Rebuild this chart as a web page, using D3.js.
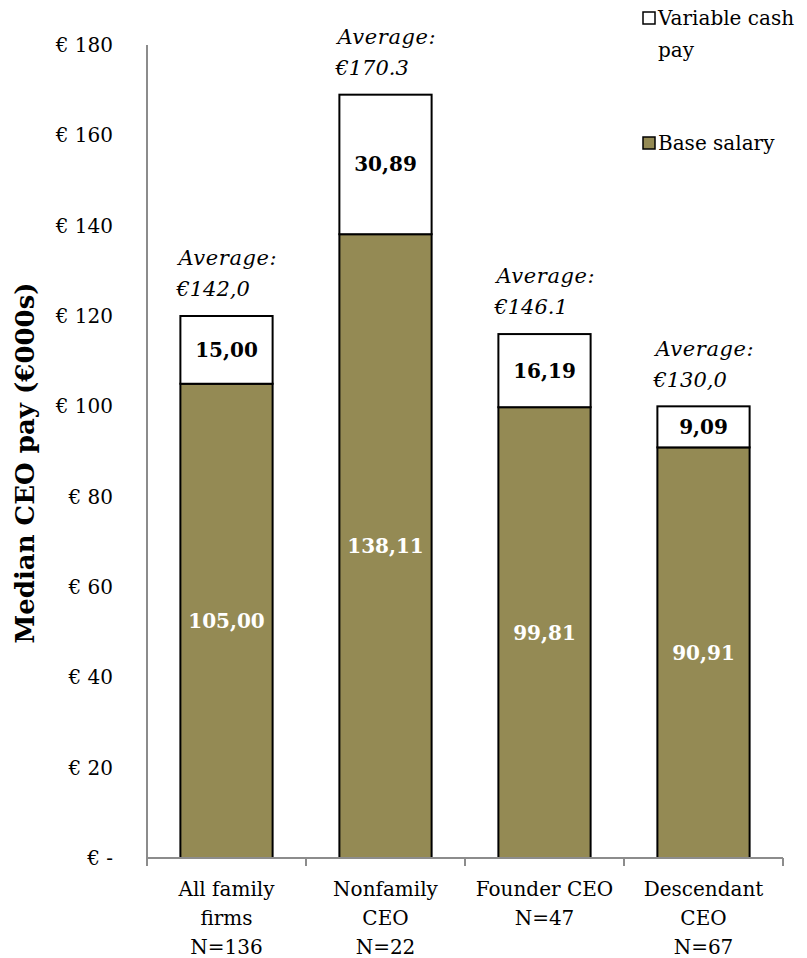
<!DOCTYPE html>
<html>
<head>
<meta charset="utf-8">
<script src="https://cdn.jsdelivr.net/npm/d3@7"></script>
<style>
  body { margin: 0; background: #fff; }
  svg { display: block; font-family: "DejaVu Serif", "Liberation Serif", serif; }
</style>
</head>
<body>
<svg id="chart" width="807" height="958"></svg>
<script>
// Median CEO pay by CEO type (€000s)
const categories = [
  ["All family", "firms", "N=136"],
  ["Nonfamily", "CEO", "N=22"],
  ["Founder CEO", "N=47"],
  ["Descendant", "CEO", "N=67"]
];
const baseSalary = [105.00, 138.11, 99.81, 90.91];
const variablePay = [15.00, 30.89, 16.19, 9.09];
const baseLabels = ["105,00", "138,11", "99,81", "90,91"];
const variableLabels = ["15,00", "30,89", "16,19", "9,09"];
const averageLabels = ["€142,0", "€170.3", "€146.1", "€130,0"];
const yTicks = [0, 20, 40, 60, 80, 100, 120, 140, 160, 180];

const svg = d3.select("#chart");
const margin = { left: 147, right: 24, top: 45, bottom: 100 };
const width = 807, height = 958;

const x = d3.scaleBand()
  .domain(d3.range(categories.length))
  .range([margin.left, width - margin.right])
  .paddingInner(0.42).paddingOuter(0.21);

const xBand = d3.scaleBand()
  .domain(d3.range(categories.length))
  .range([margin.left, width - margin.right]);

const y = d3.scaleLinear().domain([0, 180]).range([height - margin.bottom, margin.top]);

const olive = "#948a54";
const axisGray = "#8c8c8c";

// y axis line
svg.append("line")
  .attr("x1", margin.left).attr("x2", margin.left)
  .attr("y1", y(0)).attr("y2", y(180))
  .attr("stroke", axisGray).attr("stroke-width", 2);

// y tick labels
svg.append("g").selectAll("text").data(yTicks).join("text")
  .attr("x", 113).attr("y", d => y(d))
  .attr("dy", "0.35em")
  .attr("text-anchor", "end")
  .attr("font-size", 20)
  .text(d => d === 0 ? "€ -" : "€ " + d);

// y axis title
svg.append("text")
  .attr("transform", `translate(34,463) rotate(-90)`)
  .attr("text-anchor", "middle")
  .attr("font-size", 26)
  .attr("font-weight", "bold")
  .text("Median CEO pay (€000s)");

// stacked bars
const bars = svg.append("g");
categories.forEach((c, i) => {
  const x0 = x(i), bw = x.bandwidth();
  bars.append("rect")
    .attr("x", x0).attr("width", bw)
    .attr("y", y(baseSalary[i])).attr("height", y(0) - y(baseSalary[i]))
    .attr("fill", olive).attr("stroke", "#000").attr("stroke-width", 2);
  bars.append("rect")
    .attr("x", x0).attr("width", bw)
    .attr("y", y(baseSalary[i] + variablePay[i]))
    .attr("height", y(baseSalary[i]) - y(baseSalary[i] + variablePay[i]))
    .attr("fill", "#fff").attr("stroke", "#000").attr("stroke-width", 2);

  // value labels
  bars.append("text")
    .attr("x", x0 + bw / 2).attr("y", y(baseSalary[i] / 2))
    .attr("dy", "0.35em").attr("text-anchor", "middle")
    .attr("font-size", 20).attr("font-weight", "bold").attr("fill", "#fff")
    .text(baseLabels[i]);
  bars.append("text")
    .attr("x", x0 + bw / 2).attr("y", y(baseSalary[i] + variablePay[i] / 2))
    .attr("dy", "0.35em").attr("text-anchor", "middle")
    .attr("font-size", 20).attr("font-weight", "bold").attr("fill", "#000")
    .text(variableLabels[i]);

  // average annotation above each bar
  const top = y(baseSalary[i] + variablePay[i]);
  const ann = bars.append("text")
    .attr("font-size", 21).attr("font-style", "italic");
  ann.append("tspan").attr("x", x0 - 2).attr("y", top - 58).attr("dy", "0.35em").attr("letter-spacing", 0.6).text("Average:");
  ann.append("tspan").attr("x", x0 - 4).attr("y", top - 27).attr("dy", "0.35em").text(averageLabels[i]);
});

// x axis line and ticks at band boundaries
svg.append("line")
  .attr("x1", margin.left).attr("x2", width - margin.right)
  .attr("y1", y(0)).attr("y2", y(0))
  .attr("stroke", axisGray).attr("stroke-width", 2);
const bounds = d3.range(categories.length).map(i => xBand(i)).concat([width - margin.right]);
svg.append("g").selectAll("line").data(bounds).join("line")
  .attr("x1", d => d).attr("x2", d => d)
  .attr("y1", y(0)).attr("y2", y(0) + 8)
  .attr("stroke", axisGray).attr("stroke-width", 2);

// category labels
categories.forEach((lines, i) => {
  const cx = xBand(i) + xBand.bandwidth() / 2;
  const t = svg.append("text").attr("text-anchor", "middle").attr("font-size", 20);
  lines.forEach((l, k) => {
    t.append("tspan").attr("x", cx).attr("y", 889 + k * 29).attr("dy", "0.35em").text(l);
  });
});

// legend
const legend = svg.append("g");
const legendItems = [
  { fill: "#fff", lines: ["Variable cash", "pay"], y: 18 },
  { fill: olive, lines: ["Base salary"], y: 143 }
];
legendItems.forEach(it => {
  legend.append("rect")
    .attr("x", 643).attr("y", it.y - 6).attr("width", 12).attr("height", 12)
    .attr("fill", it.fill).attr("stroke", "#000").attr("stroke-width", 1.5);
  const t = legend.append("text").attr("font-size", 20);
  it.lines.forEach((l, k) => {
    t.append("tspan").attr("x", 658).attr("y", it.y + k * 32).attr("dy", "0.35em").text(l);
  });
});
</script>
</body>
</html>
